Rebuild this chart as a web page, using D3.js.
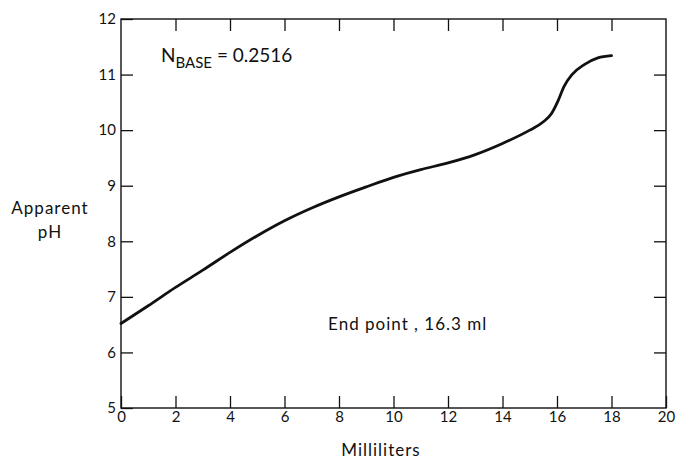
<!DOCTYPE html>
<html><head><meta charset="utf-8">
<script src="https://cdn.jsdelivr.net/npm/d3@7/dist/d3.min.js"></script>
<style>
body{margin:0;background:#fff;}
text{font-family:Lato,"DejaVu Sans",sans-serif;fill:#111;}
</style></head>
<body><svg id="c" width="676" height="459"></svg>
<script>
const milliliters = [0, 1, 2, 3, 4, 5, 6, 7, 8, 9, 10, 11, 12, 13, 14, 15, 15.5, 15.8, 16.05, 16.25, 16.55, 17, 17.5, 18];
const apparentPH = [6.52, 6.84, 7.17, 7.48, 7.8, 8.1, 8.37, 8.6, 8.8, 8.98, 9.15, 9.29, 9.41, 9.56, 9.76, 10.0, 10.15, 10.3, 10.54, 10.78, 11.0, 11.18, 11.3, 11.34];
const xTicks = [0, 2, 4, 6, 8, 10, 12, 14, 16, 18, 20];
const yTicks = [5, 6, 7, 8, 9, 10, 11, 12];
const titleNormality = "0.2516";
const endPointLabel = "End point , 16.3 ml";

const svg = d3.select("#c");
const x = d3.scaleLinear().domain([0, 20]).range([121, 666]);
const y = d3.scaleLinear().domain([5, 12]).range([408, 19]);

function styleAxis(g){
  g.select(".domain").remove();
  g.selectAll("line").attr("stroke","#111").attr("stroke-width",1.3);
  g.selectAll("text").style("font-size","15px");
}
// frame
svg.append("rect").attr("x",x(0)).attr("y",y(12)).attr("width",x(20)-x(0)).attr("height",y(5)-y(12))
  .attr("fill","none").attr("stroke","#111").attr("stroke-width",1.4);

svg.append("g").attr("transform",`translate(0,${y(5)})`)
  .call(d3.axisBottom(x).tickValues(xTicks).tickSizeInner(-12).tickSizeOuter(0).tickPadding(3).tickFormat(d3.format("d")))
  .call(styleAxis);
svg.append("g").attr("transform",`translate(0,${y(12)})`)
  .call(d3.axisTop(x).tickValues(xTicks.slice(1,-1)).tickSizeInner(-12).tickSizeOuter(0).tickFormat(""))
  .call(styleAxis);
svg.append("g").attr("transform",`translate(${x(0)},0)`)
  .call(d3.axisLeft(y).tickValues(yTicks).tickSizeInner(-12).tickSizeOuter(0).tickPadding(5).tickFormat(d3.format("d")))
  .call(styleAxis);
svg.append("g").attr("transform",`translate(${x(20)},0)`)
  .call(d3.axisRight(y).tickValues(yTicks.slice(1,-1)).tickSizeInner(-12).tickSizeOuter(0).tickFormat(""))
  .call(styleAxis);

const data = milliliters.map((m,i)=>({m, p: apparentPH[i]}));
const line = d3.line().x(d=>x(d.m)).y(d=>y(d.p)).curve(d3.curveMonotoneX);
svg.append("path").datum(data).attr("d",line).attr("fill","none")
  .attr("stroke","#111").attr("stroke-width",2.8).attr("stroke-linecap","round");

// labels
const t = svg.append("text").attr("x",161).attr("y",62).style("font-size","19px");
t.append("tspan").text("N");
t.append("tspan").attr("dy",6).style("font-size","15px").text("BASE");
t.append("tspan").attr("dy",-6).text(" = " + titleNormality);

svg.append("text").attr("x",50).attr("y",214).attr("text-anchor","middle").style("font-size","17px").style("letter-spacing","1px").text("Apparent");
svg.append("text").attr("x",50).attr("y",238).attr("text-anchor","middle").style("font-size","17px").style("letter-spacing","1px").text("pH");
svg.append("text").attr("x",381).attr("y",456).attr("text-anchor","middle").style("font-size","17px").style("letter-spacing","1px").text("Milliliters");
svg.append("text").attr("x",x(7.6)).attr("y",y(6.4)).attr("text-anchor","start").style("font-size","17px").style("letter-spacing","1px").text(endPointLabel);
</script></body></html>
